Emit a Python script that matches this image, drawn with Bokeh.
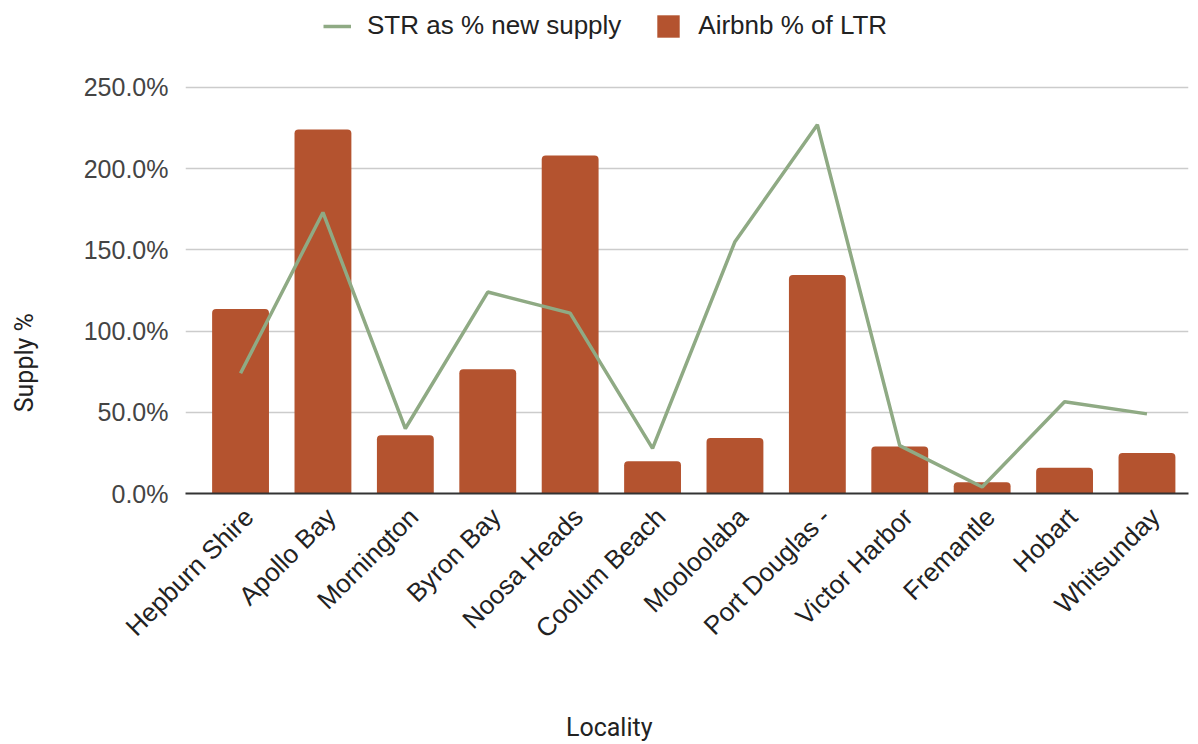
import math
from bokeh.plotting import figure
from bokeh.models import (Range1d, FixedTicker, PrintfTickFormatter, Legend, LegendItem,
                          LinearAxis, ColumnDataSource)
from bokeh.embed import file_html
from bokeh.resources import INLINE

localities = ["Hepburn Shire", "Apollo Bay", "Mornington", "Byron Bay", "Noosa Heads",
              "Coolum Beach", "Mooloolaba", "Port Douglas -", "Victor Harbor", "Fremantle",
              "Hobart", "Whitsunday"]
airbnb_pct_ltr = [113.5, 224.0, 35.8, 76.5, 208.0, 19.8, 34.2, 134.5, 29.0, 7.0, 15.8, 25.0]
str_pct_new_supply = [74.0, 173.0, 40.0, 124.0, 111.0, 27.8, 155.0, 227.0, 29.5, 4.0, 56.5, 49.0]
y_ticks = [0, 50, 100, 150, 200, 250]
x_title = "Locality"
y_title = "Supply %"

BAR_COLOR = "#B4532F"
LINE_COLOR = "#8FAA84"
TICK_FONT = "Liberation Sans"
TITLE_FONT = "Roboto"

idx = list(range(len(localities)))
src = ColumnDataSource(dict(x=idx, bar=airbnb_pct_ltr, line=str_pct_new_supply))

# frame spans the canvas top; the room above 250% holds the legend
Y_TOP = 250 + 87 * 250 / 407
X_START, X_END = -0.668, len(localities) - 0.496

p = figure(width=1198, height=744, output_backend="svg", toolbar_location=None, title=None,
           x_range=Range1d(X_START, X_END), y_range=Range1d(0, Y_TOP),
           min_border_left=185, min_border_right=10, min_border_top=0, min_border_bottom=250)
p.outline_line_color = None
p.background_fill_color = "white"
p.border_fill_color = "white"

bars = p.vbar(x="x", top="bar", width=0.69, source=src, fill_color=BAR_COLOR,
              line_color=None, border_radius=(4, 4, 0, 0))
line = p.line(x="x", y="line", source=src, line_color=LINE_COLOR, line_width=3.5)

# y axis
p.yaxis.ticker = FixedTicker(ticks=y_ticks)
p.yaxis.formatter = PrintfTickFormatter(format="%.1f%%")
p.yaxis.axis_line_color = None
p.yaxis.major_tick_line_color = None
p.yaxis.minor_tick_line_color = None
p.yaxis.major_label_standoff = 11
p.yaxis.major_label_text_font = TICK_FONT
p.yaxis.major_label_text_font_size = "25px"
p.yaxis.major_label_text_color = "#444444"

# x axis (tick marks hidden; labels nudged right like the reference)
tick_pos = [i + 0.1 for i in idx]
p.xaxis.ticker = FixedTicker(ticks=tick_pos)
p.xaxis.major_label_overrides = {t: n for t, n in zip(tick_pos, localities)}
p.xaxis.major_label_orientation = math.pi / 4
p.xaxis.axis_line_color = "#333333"
p.xaxis.axis_line_width = 2
p.xaxis.major_tick_line_color = None
p.xaxis.minor_tick_line_color = None
p.xaxis.major_label_standoff = 13
p.xaxis.major_label_text_font = TICK_FONT
p.xaxis.major_label_text_font_size = "26px"
p.xaxis.major_label_text_color = "#222222"

p.xgrid.grid_line_color = None
p.ygrid.ticker = FixedTicker(ticks=y_ticks)
p.ygrid.grid_line_color = "#CCCCCC"
p.ygrid.grid_line_width = 1.5


def title_axis(pos, text, orientation, standoff):
    ax = LinearAxis(ticker=FixedTicker(ticks=[pos]), major_label_overrides={pos: text},
                    axis_line_color=None, major_tick_line_color=None,
                    minor_tick_line_color=None, major_tick_out=0, major_tick_in=0,
                    major_label_orientation=orientation, major_label_standoff=standoff,
                    major_label_text_font=TITLE_FONT, major_label_text_font_size="25px",
                    major_label_text_color="#222222")
    return ax


# axis titles, placed like the reference (not centred on the frame)
X_TITLE_POS = 4.474
Y_TITLE_POS = 80.5
p.add_layout(title_axis(X_TITLE_POS, x_title, "horizontal", 55), "below")
p.add_layout(title_axis(Y_TITLE_POS, y_title, "vertical", 41), "left")

legend = Legend(items=[LegendItem(label="STR as % new supply", renderers=[line]),
                       LegendItem(label="Airbnb % of LTR", renderers=[bars])],
                orientation="horizontal", location=(138, 452),
                glyph_width=28, glyph_height=28, label_height=28,
                label_standoff=16, spacing=33, padding=0, margin=0,
                border_line_color=None, background_fill_alpha=0,
                label_text_font=TICK_FONT, label_text_font_size="26px",
                label_text_color="#222222")
p.add_layout(legend, "center")

open("out.html", "w").write(file_html(p, INLINE))
